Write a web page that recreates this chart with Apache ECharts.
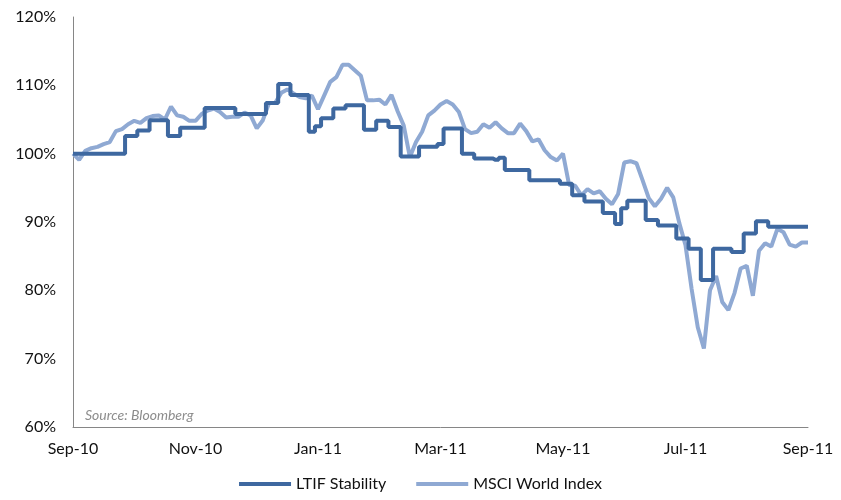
<!DOCTYPE html>
<html>
<head>
<meta charset="utf-8">
<script src="https://cdn.jsdelivr.net/npm/echarts@6/dist/echarts.min.js"></script>
<style>
  html, body { margin: 0; padding: 0; background: #fff; }
  #main { width: 841px; height: 500px; }
</style>
</head>
<body>
<div id="main"></div>
<script>
// tick labels on the x axis, one every 20 points
var tickLabels = ['Sep-10', 'Nov-10', 'Jan-11', 'Mar-11', 'May-11', 'Jul-11', 'Sep-11'];
var step = 20;

// LTIF Stability (%)
var ltif = [
  100, 100, 100, 100, 100, 100, 100, 100, 100, 102.6,
  102.6, 103.4, 103.4, 104.9, 104.9, 104.9, 102.6, 102.6, 103.8, 103.8,
  103.8, 103.8, 106.7, 106.7, 106.7, 106.7, 106.7, 105.8, 105.8, 105.8,
  105.8, 105.8, 107.4, 107.4, 110.2, 110.2, 108.6, 108.6, 108.6, 103.2,
  104.0, 105.2, 105.2, 106.6, 106.6, 107.1, 107.1, 107.1, 103.5, 103.5,
  104.8, 104.8, 103.9, 103.9, 99.6, 99.6, 99.6, 101.0, 101.0, 101.0,
  101.4, 103.7, 103.7, 103.7, 100.0, 100.0, 99.3, 99.3, 99.3, 99.1,
  99.4, 97.6, 97.6, 97.6, 97.6, 96.1, 96.1, 96.1, 96.1, 96.1,
  95.6, 95.6, 93.9, 93.9, 93.0, 93.0, 93.0, 91.3, 91.3, 89.7,
  92.0, 93.1, 93.1, 93.1, 90.3, 90.3, 89.5, 89.5, 89.5, 87.6,
  87.6, 86.1, 86.1, 81.5, 81.5, 86.1, 86.1, 86.1, 85.6, 85.6,
  88.3, 88.3, 90.1, 90.1, 89.3, 89.3, 89.3, 89.3, 89.3, 89.3,
  89.3
];

// MSCI World Index (%)
var msci = [
  100.0, 99.1, 100.4, 100.8, 101.0, 101.4, 101.7, 103.3, 103.6, 104.3,
  104.8, 104.5, 105.2, 105.5, 105.6, 105.0, 106.9, 105.6, 105.4, 104.8,
  104.8, 105.8, 106.3, 106.6, 106.1, 105.3, 105.4, 105.4, 106.0, 105.6,
  103.7, 104.9, 107.4, 107.4, 108.9, 109.4, 108.8, 108.3, 108.1, 108.5,
  106.5, 108.5, 110.5, 111.2, 113.0, 113.0, 112.2, 111.4, 107.8, 107.8,
  107.9, 107.2, 108.6, 106.2, 104.1, 99.5, 101.7, 103.2, 105.6, 106.3,
  107.2, 107.7, 107.2, 106.1, 103.6, 103.0, 103.2, 104.3, 103.8, 104.6,
  103.7, 103.0, 103.0, 104.4, 103.3, 101.8, 102.1, 100.5, 99.5, 99.0,
  100.0, 95.4, 95.3, 93.9, 94.8, 94.2, 94.5, 93.4, 92.6, 94.1,
  98.7, 98.9, 98.6, 96.1, 93.5, 92.3, 93.4, 95.0, 93.6, 89.8,
  86.6, 80.2, 74.6, 71.5, 80.0, 82.1, 78.3, 77.1, 79.6, 83.2,
  83.6, 79.2, 85.8, 86.9, 86.4, 89.0, 88.5, 86.7, 86.4, 87.0,
  87.0
];

var categories = [];
for (var i = 0; i < ltif.length; i++) {
  categories.push(i % step === 0 ? tickLabels[i / step] : 'p' + i);
}

var font = 'Lato, "Open Sans", sans-serif';
var myChart = echarts.init(document.getElementById('main'));
var option = {
  animation: false,
  grid: { left: 73, right: 33, top: 17, bottom: 73 },
  legend: {
    bottom: 3,
    left: 'center',
    icon: 'rect',
    itemWidth: 52,
    itemHeight: 4,
    itemGap: 30,
    textStyle: { fontFamily: font, fontSize: 16, color: '#111' },
    data: ['LTIF Stability', 'MSCI World Index']
  },
  xAxis: {
    type: 'category',
    boundaryGap: false,
    data: categories,
    axisLine: { lineStyle: { color: '#868686', width: 1 } },
    axisTick: { show: false },
    axisLabel: {
      interval: step - 1,
      margin: 14,
      fontFamily: font,
      fontSize: 16,
      color: '#111',
      formatter: function (v, idx) {
        return idx % step === 0 ? tickLabels[idx / step] : '';
      }
    },
    splitLine: { show: false }
  },
  yAxis: {
    type: 'value',
    min: 60,
    max: 120,
    interval: 10,
    axisLine: { show: true, lineStyle: { color: '#868686', width: 1 } },
    axisTick: { show: false },
    axisLabel: { margin: 17, fontFamily: font, fontSize: 16, color: '#111', formatter: '{value}%' },
    splitLine: { show: false }
  },
  graphic: [{
    type: 'text',
    left: 85,
    top: 408,
    style: { text: 'Source: Bloomberg', font: 'italic 14px ' + font, fill: '#8c8c8c' }
  }],
  series: [
    {
      name: 'LTIF Stability',
      type: 'line',
      step: 'middle',
      data: ltif,
      symbol: 'none',
      lineStyle: { color: '#3E68A0', width: 4 },
      itemStyle: { color: '#3E68A0' },
      z: 3
    },
    {
      name: 'MSCI World Index',
      type: 'line',
      data: msci,
      symbol: 'none',
      lineStyle: { color: '#8FA9D3', width: 4 },
      itemStyle: { color: '#8FA9D3' },
      z: 2
    }
  ]
};
myChart.setOption(option);
</script>
</body>
</html>
